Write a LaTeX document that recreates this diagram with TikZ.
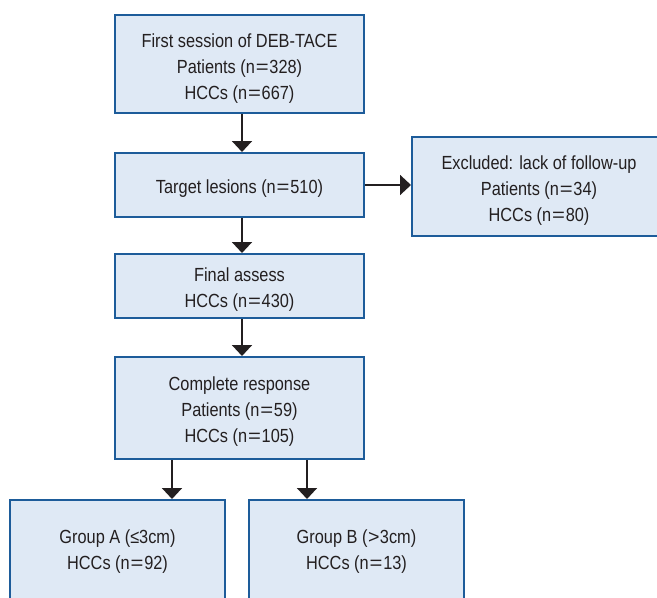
\documentclass[tikz,border=0pt]{standalone}
\usepackage{fontspec}
\usepackage{graphicx}
\setmainfont[FakeStretch=0.86]{Liberation Sans}
\usetikzlibrary{arrows.meta}
\definecolor{bordc}{HTML}{1D5C9A}
\definecolor{fillc}{HTML}{DFE9F5}
\definecolor{txtc}{HTML}{231F20}
\newcommand{\eqs}{\kern0.8pt\scalebox{1.35}[1]{=}\kern0.8pt}
\newcommand{\tl}{\rule{0pt}{21pt}}
\begin{document}
\begin{tikzpicture}[x=1pt,y=-1pt,
  boxst/.style={draw=bordc,fill=fillc,line width=2pt,rectangle,align=center,
    text=txtc,inner sep=0pt,font=\fontsize{19pt}{26pt}\selectfont},
  arr/.style={draw=txtc,line width=2pt,-{Triangle[width=20pt,length=11pt]}}]
\useasboundingbox (0,0) rectangle (657,598);
\clip (0,0) rectangle (657,598);
\node[boxst,minimum width=249pt,minimum height=98pt] (b1) at (239.5,64)
  {\rule{0pt}{23pt}First session of DEB-TACE\\Patients (n\eqs328)\\HCCs (n\eqs667)};
\node[boxst,minimum width=249pt,minimum height=64pt] (b2) at (239.5,185)
  {\tl Target lesions (n\eqs510)};
\node[boxst,minimum width=254pt,minimum height=99pt] (ex) at (539,186.5)
  {\tl Excluded: lack of follow-up\\Patients (n\eqs34)\\HCCs (n\eqs80)};
\node[boxst,minimum width=249pt,minimum height=64pt] (b3) at (239.5,286)
  {\tl Final assess\\HCCs (n\eqs430)};
\node[boxst,minimum width=249pt,minimum height=102pt] (b4) at (239.5,408)
  {\tl Complete response\\Patients (n\eqs59)\\HCCs (n\eqs105)};
\node[boxst,minimum width=215pt,minimum height=104pt] (ga) at (117.5,552)
  {Group A (≤3cm)\\HCCs (n\eqs92)};
\node[boxst,minimum width=215pt,minimum height=104pt] (gb) at (356.5,552)
  {Group B (\kern0.5pt\scalebox{1.2}[1]{>}\kern0.5pt3cm)\\HCCs (n\eqs13)};
\draw[arr] ([xshift=2.5pt]b1.south) coordinate (p1) -- (p1 |- b2.north);
\draw[arr] ([xshift=2.5pt]b2.south) coordinate (p2) -- (p2 |- b3.north);
\draw[arr] ([xshift=2.5pt]b3.south) coordinate (p3) -- (p3 |- b4.north);
\draw[arr] (b2.east) -- (b2.east -| ex.west);
\draw[arr] ([xshift=-67.5pt]b4.south) coordinate (p4) -- (p4 |- ga.north);
\draw[arr] ([xshift=67.5pt]b4.south) coordinate (p5) -- (p5 |- gb.north);
\end{tikzpicture}
\end{document}
